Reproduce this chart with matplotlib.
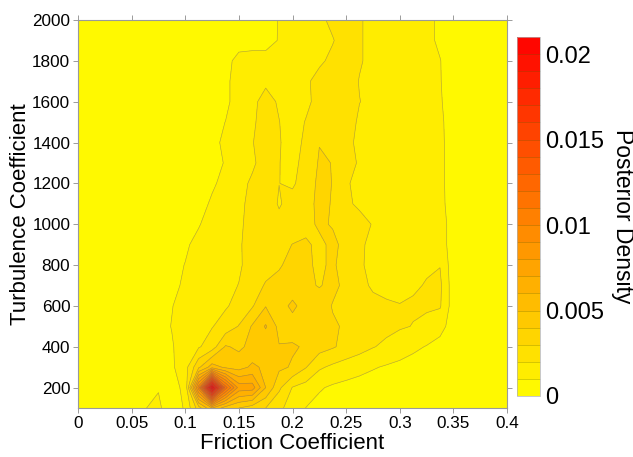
import numpy as np
import matplotlib
matplotlib.use("Agg")
import matplotlib.pyplot as plt

plt.rcParams['font.family'] = ['Liberation Sans', 'DejaVu Sans']

# grid of the posterior (friction step 0.0125, turbulence step 100)
friction = np.linspace(0, 0.4, 33)
turbulence = np.arange(100, 2001, 100)

# posterior density in units of 1e-3, one row per turbulence value (100 ... 2000)
density_milli = [
    [0.2, 0.3, 0.4, 0.5, 0.6, 0.98, 1.15, 0.5, 1.1, 3.5, 6.0, 4.5, 4.0, 3.5, 3.0, 2.2, 1.6, 0.98, 0.7, 0.55, 0.45, 0.4, 0.35, 0.3, 0.3, 0.3, 0.3, 0.3, 0.3, 0.3, 0.3, 0.3, 0.3],
    [0.2, 0.3, 0.4, 0.5, 0.6, 0.8, 0.95, 0.85, 1.1, 9.5, 20.8, 11.5, 7.6, 7.5, 5.0, 3.2, 1.95, 1.6, 1.1, 0.85, 0.7, 0.6, 0.5, 0.45, 0.4, 0.35, 0.3, 0.3, 0.3, 0.3, 0.3, 0.3, 0.3],
    [0.2, 0.3, 0.4, 0.5, 0.6, 0.7, 0.8, 0.85, 1.6, 3.8, 5.5, 4.8, 4.6, 5.2, 4.8, 4.2, 3.9, 3.05, 2.15, 1.8, 1.55, 1.3, 1.08, 0.9, 0.75, 0.6, 0.5, 0.4, 0.35, 0.3, 0.3, 0.3, 0.3],
    [0.2, 0.3, 0.38, 0.45, 0.55, 0.65, 0.8, 0.95, 1.3, 1.9, 2.5, 4.1, 3.8, 4.3, 4.3, 4.05, 4.1, 3.9, 3.4, 3.1, 2.7, 2.4, 2.05, 1.8, 1.5, 1.2, 0.95, 0.7, 0.5, 0.35, 0.3, 0.3, 0.3],
    [0.2, 0.28, 0.35, 0.4, 0.5, 0.65, 0.8, 1.02, 1.3, 1.6, 1.95, 2.4, 3.05, 4.1, 5.1, 3.7, 3.6, 3.5, 3.3, 3.1, 2.9, 2.6, 2.4, 2.25, 2.1, 1.97, 1.7, 1.3, 0.6, 0.35, 0.3, 0.3, 0.3],
    [0.2, 0.25, 0.35, 0.42, 0.5, 0.65, 0.8, 0.98, 1.2, 1.5, 1.7, 1.9, 2.3, 2.9, 3.95, 3.6, 4.2, 3.6, 3.4, 2.95, 2.6, 2.3, 2.1, 2.05, 2.02, 2.1, 2.15, 2.1, 0.5, 0.3, 0.3, 0.3, 0.3],
    [0.2, 0.25, 0.3, 0.4, 0.5, 0.55, 0.7, 0.85, 1.1, 1.4, 1.6, 1.8, 2.02, 2.5, 3.1, 3.3, 3.5, 3.15, 2.95, 3.2, 2.8, 2.1, 1.95, 1.9, 1.85, 1.9, 2.05, 2.2, 0.45, 0.3, 0.3, 0.3, 0.3],
    [0.2, 0.25, 0.3, 0.35, 0.45, 0.55, 0.65, 0.8, 1.02, 1.3, 1.5, 1.7, 1.9, 2.3, 2.6, 2.9, 3.3, 3.1, 2.9, 3.1, 2.7, 2.05, 1.9, 1.85, 1.85, 1.85, 1.9, 1.97, 0.4, 0.3, 0.3, 0.3, 0.3],
    [0.2, 0.25, 0.3, 0.35, 0.4, 0.5, 0.6, 0.75, 0.9, 1.2, 1.45, 1.7, 1.9, 2.35, 2.6, 2.7, 3.02, 3.1, 2.85, 3.15, 2.8, 2.1, 1.85, 1.7, 1.6, 1.5, 1.4, 1.2, 0.8, 0.45, 0.3, 0.3, 0.3],
    [0.2, 0.2, 0.25, 0.3, 0.35, 0.45, 0.55, 0.65, 0.8, 0.95, 1.3, 1.6, 1.85, 2.3, 2.6, 2.3, 2.5, 2.8, 3.1, 2.95, 2.6, 2.3, 1.95, 1.7, 1.6, 1.5, 1.4, 1.2, 0.8, 0.45, 0.3, 0.3, 0.3],
    [0.2, 0.2, 0.25, 0.3, 0.35, 0.4, 0.45, 0.55, 0.65, 0.75, 1.1, 1.4, 1.8, 2.25, 2.6, 1.9, 2.4, 2.7, 3.2, 2.95, 2.15, 1.85, 1.75, 1.65, 1.55, 1.45, 1.35, 1.15, 0.75, 0.45, 0.3, 0.3, 0.3],
    [0.2, 0.2, 0.25, 0.3, 0.3, 0.35, 0.45, 0.55, 0.62, 0.7, 0.9, 1.2, 1.7, 2.15, 2.5, 2.01, 1.85, 2.5, 3.2, 2.98, 2.08, 1.8, 1.7, 1.6, 1.5, 1.4, 1.3, 1.13, 0.75, 0.45, 0.3, 0.3, 0.3],
    [0.2, 0.2, 0.25, 0.3, 0.3, 0.35, 0.4, 0.5, 0.6, 0.68, 0.75, 1.05, 1.5, 1.85, 2.4, 2.02, 1.75, 2.3, 3.1, 2.98, 2.5, 1.85, 1.65, 1.6, 1.5, 1.4, 1.3, 1.12, 0.75, 0.45, 0.3, 0.3, 0.3],
    [0.2, 0.2, 0.25, 0.25, 0.3, 0.35, 0.4, 0.5, 0.6, 0.7, 0.8, 1.15, 1.6, 1.95, 2.5, 2.05, 1.7, 2.15, 2.97, 2.9, 2.3, 1.75, 1.65, 1.6, 1.5, 1.4, 1.3, 1.12, 0.75, 0.45, 0.3, 0.3, 0.3],
    [0.2, 0.2, 0.25, 0.25, 0.3, 0.3, 0.35, 0.45, 0.55, 0.65, 0.75, 1.01, 1.5, 1.85, 2.4, 2.02, 1.6, 2.05, 2.5, 2.8, 2.6, 1.8, 1.7, 1.6, 1.5, 1.4, 1.3, 1.1, 0.75, 0.45, 0.3, 0.3, 0.3],
    [0.2, 0.2, 0.25, 0.25, 0.3, 0.3, 0.35, 0.4, 0.5, 0.6, 0.7, 0.8, 1.4, 1.8, 2.3, 1.9, 1.6, 1.8, 2.3, 2.6, 2.6, 2.02, 1.75, 1.6, 1.5, 1.4, 1.25, 1.05, 0.75, 0.45, 0.3, 0.3, 0.3],
    [0.2, 0.2, 0.2, 0.25, 0.25, 0.3, 0.3, 0.35, 0.45, 0.55, 0.65, 0.8, 1.4, 1.6, 1.85, 1.7, 1.7, 1.85, 2.3, 2.5, 2.5, 1.95, 1.7, 1.6, 1.5, 1.35, 1.2, 1.03, 0.7, 0.45, 0.3, 0.3, 0.3],
    [0.2, 0.2, 0.2, 0.2, 0.25, 0.25, 0.3, 0.35, 0.4, 0.5, 0.6, 0.7, 1.3, 1.35, 1.3, 1.3, 1.4, 1.6, 1.85, 2.2, 2.4, 2.1, 1.7, 1.6, 1.45, 1.3, 1.2, 1.02, 0.7, 0.45, 0.3, 0.3, 0.3],
    [0.2, 0.2, 0.2, 0.2, 0.2, 0.25, 0.3, 0.3, 0.35, 0.4, 0.45, 0.5, 0.6, 0.65, 0.7, 1.05, 1.3, 1.5, 1.8, 1.95, 2.4, 2.1, 1.7, 1.6, 1.4, 1.3, 1.15, 0.9, 0.6, 0.4, 0.3, 0.3, 0.3],
    [0.2, 0.2, 0.2, 0.2, 0.2, 0.2, 0.3, 0.3, 0.3, 0.35, 0.4, 0.45, 0.5, 0.55, 0.6, 1.05, 1.3, 1.5, 1.8, 2.2, 2.4, 2.1, 1.7, 1.6, 1.4, 1.3, 1.15, 0.9, 0.6, 0.4, 0.3, 0.3, 0.3],
]

cbar_ticks = [0, 0.005, 0.01, 0.015, 0.02]
cbar_ticklabels = ['0', '0.005', '0.01', '0.015', '0.02']
x_ticks = [0, 0.05, 0.1, 0.15, 0.2, 0.25, 0.3, 0.35, 0.4]
x_ticklabels = ['0', '0.05', '0.1', '0.15', '0.2', '0.25', '0.3', '0.35', '0.4']
y_ticks = [200, 400, 600, 800, 1000, 1200, 1400, 1600, 1800, 2000]

Z = np.array(density_milli) * 1e-3
levels = np.arange(0, 0.0215, 0.001)

fig = plt.figure(figsize=(6.33, 4.57), dpi=100)
ax = fig.add_axes([0.1232, 0.1072, 0.6778, 0.849])

cf = ax.contourf(friction, turbulence, Z, levels=levels, cmap='autumn_r')
ax.contour(friction, turbulence, Z, levels=levels[1:], colors='#6a6a6a',
           linewidths=0.45, alpha=0.5)

ax.set_xlim(0, 0.4)
ax.set_ylim(100, 2000)
ax.set_xticks(x_ticks)
ax.set_xticklabels(x_ticklabels)
ax.set_yticks(y_ticks)
ax.tick_params(direction='out', length=3.5, width=0.6, color='#8c8c8c',
               top=True, right=True, labelsize=12.3, pad=2)
for s in ax.spines.values():
    s.set_color('#9a9a9a')
    s.set_linewidth(0.8)
ax.set_xlabel('Friction Coefficient', fontsize=16, labelpad=2)
ax.set_ylabel('Turbulence Coefficient', fontsize=16, labelpad=1)

cax = fig.add_axes([0.8167, 0.1335, 0.0363, 0.7856])
cb = fig.colorbar(cf, cax=cax, ticks=cbar_ticks, drawedges=True)
cb.ax.set_yticklabels(cbar_ticklabels)
cb.ax.tick_params(length=0, labelsize=17, pad=4)
cb.dividers.set_color((0.35, 0.3, 0.0, 0.35))
cb.dividers.set_linewidth(0.5)
cb.outline.set_edgecolor('#b0b0b0')
cb.outline.set_linewidth(0.5)
cb.set_label('Posterior Density', rotation=270, va='bottom', fontsize=16.5, labelpad=5)

fig.savefig('out.png', dpi=100)
